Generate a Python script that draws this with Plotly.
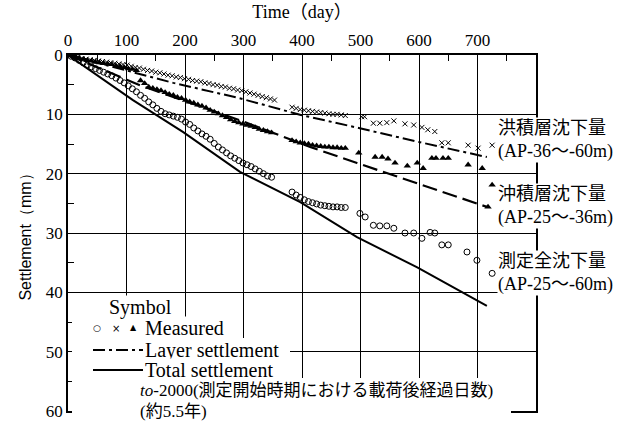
import plotly.graph_objects as go

# ---------------- data ----------------
# Total settlement, measured (open circles)
circ_day = [5, 12, 19, 26, 33, 40, 47, 54, 61, 68, 75, 82, 89, 96, 103, 110, 117, 124, 131, 138,
            145, 152, 159, 166, 173, 180, 187, 194, 201, 208, 215, 222, 229, 236, 243, 250, 257,
            264, 271, 278, 285, 292, 299, 306, 313, 320, 327, 334, 341, 348,
            383, 390, 397, 404, 411, 418, 425, 432, 439, 446, 453, 460, 467, 474,
            499, 508, 522, 533, 545, 557, 576, 591, 605, 619, 627, 639, 650, 682, 699, 725]
circ_mm = [0.2, 0.5, 0.9, 1.3, 1.7, 2.0, 2.3, 2.6, 2.9, 3.2, 3.5, 3.9, 4.3, 4.7, 5.2, 5.7, 6.2, 6.8, 7.3, 7.9,
           8.4, 9.0, 9.5, 9.9, 10.1, 10.3, 10.5, 10.8, 11.3, 11.7, 12.3, 12.8, 13.3, 13.7, 14.2, 14.9, 15.5,
           16.0, 16.5, 17.0, 17.4, 17.8, 18.2, 18.5, 18.8, 19.2, 19.6, 20.0, 20.4, 20.6,
           23.1, 23.6, 24.0, 24.4, 24.7, 24.9, 25.1, 25.3, 25.4, 25.5, 25.6, 25.6, 25.7, 25.7,
           26.7, 27.3, 28.7, 28.8, 28.8, 29.2, 30.0, 30.0, 30.9, 29.9, 30.0, 32.0, 32.0, 33.2, 34.6, 36.8]

# Diluvial layer (AP-36 ~ -60 m), measured (crosses)
cross_day = [3, 10, 17, 24, 31, 38, 45, 52, 59, 66, 73, 80, 87, 94, 101, 108, 115, 122, 129, 136,
             143, 150, 157, 164, 171, 178, 185, 192, 199, 206, 213, 220, 227, 234, 241, 248, 255,
             262, 269, 276, 283, 290, 297, 304, 311, 318, 325, 332, 339, 346, 353,
             383, 390, 397, 404, 411, 418, 425, 432, 439, 446, 453, 460, 467, 474,
             502, 507, 522, 533, 545, 557, 576, 591, 605, 615, 627, 639, 650, 684, 701, 725]
cross_mm = [0.1, 0.3, 0.4, 0.6, 0.7, 0.8, 0.9, 1.0, 1.1, 1.2, 1.3, 1.4, 1.5, 1.6, 1.7, 1.9, 2.1, 2.2, 2.4, 2.6,
            2.7, 2.9, 3.0, 3.2, 3.4, 3.5, 3.7, 3.8, 4.0, 4.1, 4.3, 4.4, 4.5, 4.7, 4.8, 5.0, 5.1,
            5.3, 5.4, 5.6, 5.7, 5.9, 6.0, 6.2, 6.4, 6.6, 6.8, 7.0, 7.2, 7.4, 7.6,
            8.8, 9.0, 9.2, 9.3, 9.4, 9.5, 9.6, 9.7, 9.8, 9.9, 10.0, 10.0, 10.1, 10.2,
            10.4, 10.4, 11.5, 11.5, 11.4, 11.1, 11.6, 11.8, 12.2, 12.6, 12.9, 14.8, 14.8, 15.2, 15.7, 15.2]

# Alluvial layer (AP-25 ~ -36 m), measured (filled triangles)
tri_day = [5, 12, 19, 26, 33, 40, 47, 54, 61, 68, 75, 82, 89, 96, 103, 110, 117, 124, 131, 138,
           145, 152, 159, 166, 173, 180, 187, 194, 201, 208, 215, 222, 229, 236, 243, 250, 257,
           264, 271, 278, 285, 292, 299, 306, 313, 320, 327, 334, 341, 348,
           383, 390, 397, 404, 411, 418, 425, 432, 439, 446, 453, 460, 467, 474,
           497, 525, 537, 547, 559, 580, 597, 607, 622, 629, 641, 650, 684, 708, 718, 725]
tri_mm = [0.1, 0.3, 0.5, 0.7, 0.9, 1.0, 1.2, 1.3, 1.4, 1.5, 1.6, 1.8, 1.9, 2.1, 2.3, 2.4, 2.6, 4.3, 4.8, 5.4,
          5.6, 5.8, 6.0, 6.3, 6.6, 6.8, 7.1, 7.3, 7.6, 7.9, 8.1, 8.4, 8.6, 8.9, 9.3, 9.6, 9.9,
          10.2, 10.5, 10.9, 11.2, 11.4, 11.6, 11.8, 12.0, 12.2, 12.5, 12.7, 12.9, 13.1,
          14.4, 14.6, 14.8, 14.9, 15.0, 15.2, 15.3, 15.4, 15.5, 15.5, 15.6, 15.6, 15.7, 15.7,
          16.5, 17.2, 17.2, 17.5, 18.2, 18.7, 18.2, 19.1, 17.4, 17.4, 17.4, 17.4, 18.5, 19.1, 25.6, 21.9]

# Calculated curves
total_day = [0, 111, 197, 294, 397, 494, 597, 716]
total_mm = [0, 7.6, 13.0, 19.7, 24.8, 30.7, 35.8, 42.3]
dilu_day = [0, 180, 290, 398, 497, 597, 716]
dilu_mm = [0, 4.7, 7.2, 10.1, 12.3, 14.6, 17.2]
allu_day = [0, 123, 294, 414, 494, 597, 716]
allu_mm = [0, 5.1, 11.0, 15.5, 18.2, 21.6, 25.6]

x_ticks = [0, 100, 200, 300, 400, 500, 600, 700]
y_ticks = [0, 10, 20, 30, 40, 50, 60]

# ---------------- layout helpers ----------------
W, H = 640, 436
L, R, T, B = 68, 104, 55, 25
PW, PH = W - L - R, H - T - B


def px(xp):
    return (xp - L) / PW


def py(yp):
    return 1 - (yp - T) / PH


SERIF = "Liberation Serif, Noto Sans CJK JP, serif"
SANS = "Liberation Sans, Arial, sans-serif"

fig = go.Figure()

fig.add_trace(go.Scatter(x=total_day, y=total_mm, mode="lines",
                         line=dict(color="black", width=2), hoverinfo="skip"))
fig.add_trace(go.Scatter(x=dilu_day, y=dilu_mm, mode="lines",
                         line=dict(color="black", width=2, dash="12px,4px,3px,4px"), hoverinfo="skip"))
fig.add_trace(go.Scatter(x=allu_day, y=allu_mm, mode="lines",
                         line=dict(color="black", width=2.2, dash="15px,6px"), hoverinfo="skip"))
fig.add_trace(go.Scatter(x=circ_day, y=circ_mm, mode="markers",
                         marker=dict(symbol="circle-open", size=6, color="black", line=dict(width=1))))
fig.add_trace(go.Scatter(x=cross_day, y=cross_mm, mode="markers",
                         marker=dict(symbol="x-thin-open", size=5, color="black", line=dict(width=1))))
fig.add_trace(go.Scatter(x=tri_day, y=tri_mm, mode="markers",
                         marker=dict(symbol="triangle-up", size=6.5, color="black", line=dict(width=0))))

shapes = []
# white areas behind the legend / note (grid interrupted in the original)
shapes.append(dict(type="rect", xref="paper", yref="paper", layer="above",
                   x0=px(72), x1=px(182), y0=py(302), y1=py(418),
                   fillcolor="white", line=dict(width=0)))
shapes.append(dict(type="rect", xref="paper", yref="paper", layer="above",
                   x0=px(182), x1=px(290), y0=py(338), y1=py(418),
                   fillcolor="white", line=dict(width=0)))
shapes.append(dict(type="rect", xref="paper", yref="paper", layer="above",
                   x0=px(72), x1=px(511), y0=py(378), y1=py(418),
                   fillcolor="white", line=dict(width=0)))
# legend line samples
shapes.append(dict(type="line", xref="paper", yref="paper", layer="above",
                   x0=px(93), x1=px(143), y0=py(350), y1=py(350),
                   line=dict(color="black", width=2, dash="12px,4px,3px,4px")))
shapes.append(dict(type="line", xref="paper", yref="paper", layer="above",
                   x0=px(93), x1=px(143), y0=py(370), y1=py(370),
                   line=dict(color="black", width=2)))

ann = []


def text(xp, yp, s, size=20, anchor="left", fam=SERIF, bg="white", valign="middle"):
    ann.append(dict(x=px(xp), y=py(yp), xref="paper", yref="paper", text=s, showarrow=False,
                    xanchor=anchor, yanchor=valign, align="left", bgcolor=bg, borderpad=0,
                    font=dict(family=fam, size=size, color="black")))


# legend
text(108, 307, "Symbol")
text(97, 328, "○", size=9, anchor="center", fam="DejaVu Sans", bg="rgba(0,0,0,0)")
text(116, 328, "×", size=10, anchor="center", fam="DejaVu Sans", bg="rgba(0,0,0,0)")
text(133, 327, "▲", size=8, anchor="center", fam="DejaVu Sans", bg="rgba(0,0,0,0)")
text(144, 328, "Measured")
text(144, 350, "Layer settlement")
text(144, 370, "Total settlement")
text(139, 390, "<i>to</i>-2000(測定開始時期における載荷後経過日数)", size=17)
text(139, 411, "(約5.5年)", size=17)

# right-hand labels
text(497, 140, "洪積層沈下量<br>(AP-36～-60m)", size=18)
text(497, 206, "沖積層沈下量<br>(AP-25～-36m)", size=18)
text(497, 273, "測定全沈下量<br>(AP-25～-60m)", size=18)

fig.update_layout(
    width=W, height=H,
    margin=dict(l=L, r=R, t=T, b=B),
    paper_bgcolor="white", plot_bgcolor="white",
    showlegend=False,
    shapes=shapes, annotations=ann,
    font=dict(family=SERIF, color="black"),
)

fig.update_xaxes(
    range=[0, 800], side="top", tickvals=x_ticks, ticktext=[str(v) for v in x_ticks],
    ticks="", showgrid=True, gridcolor="black", gridwidth=1.2,
    showline=True, linecolor="black", linewidth=1.5, mirror=True,
    tickfont=dict(family="Liberation Serif", size=17),
    title=dict(text="Time（day）", font=dict(family=SERIF, size=18), standoff=8),
    minor=dict(tickvals=[50, 150, 250, 350, 450, 550, 650, 750], ticks="inside",
               ticklen=6, tickcolor="black", tickwidth=1.2, showgrid=False),
    zeroline=False,
)
fig.update_yaxes(
    range=[60, 0], tickvals=y_ticks, ticktext=[str(v) for v in y_ticks],
    ticks="", showgrid=True, gridcolor="black", gridwidth=1.2,
    showline=True, linecolor="black", linewidth=1.5, mirror=True,
    tickfont=dict(family="Liberation Serif", size=17),
    title=dict(text="Settlement（mm）", font=dict(family=SANS, size=16), standoff=10),
    minor=dict(tickvals=[5, 15, 25, 35, 45, 55], ticks="inside",
               ticklen=6, tickcolor="black", tickwidth=1.2, showgrid=False),
    zeroline=False,
)

fig.write_html("out.html")
